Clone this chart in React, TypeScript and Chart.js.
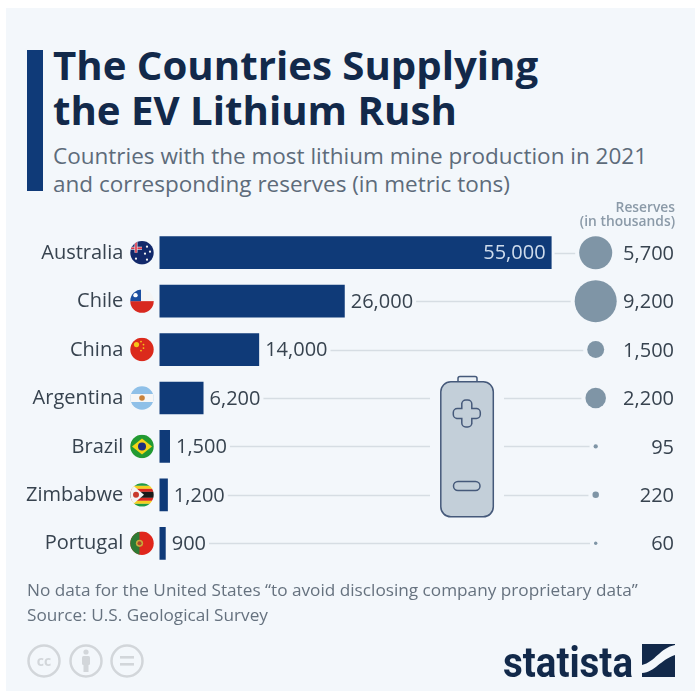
import React, { useEffect, useRef } from "react";
import { Chart, registerables } from "chart.js";

Chart.register(...registerables);

const countries = ["Australia", "Chile", "China", "Argentina", "Brazil", "Zimbabwe", "Portugal"];
const production = [55000, 26000, 14000, 6200, 1500, 1200, 900];
const reserves = [5700, 9200, 1500, 2200, 95, 220, 60];
const titleLines = ["The Countries Supplying", "the EV Lithium Rush"];
const subtitleLines = ["Countries with the most lithium mine production in 2021", "and corresponding reserves (in metric tons)"];
const reservesHeader = ["Reserves", "(in thousands)"];
const footnotes = ["No data for the United States \u201cto avoid disclosing company proprietary data\u201d", "Source: U.S. Geological Survey"];

const FONT = '"Open Sans", sans-serif';
const NAVY = "#0f3a78";
const TEXT = "#37434f";
const VALUE_SIZE = 20;
const fmt = (v: number) => v.toLocaleString("en-US");

type Ctx = CanvasRenderingContext2D;
const rect = (c: Ctx, col: string, x: number, y: number, w: number, h: number) => {
  c.fillStyle = col;
  c.fillRect(x, y, w, h);
};
const disc = (c: Ctx, col: string, x: number, y: number, r: number) => {
  c.fillStyle = col;
  c.beginPath();
  c.arc(x, y, r, 0, Math.PI * 2);
  c.fill();
};
const poly = (c: Ctx, col: string, pts: number[][]) => {
  c.fillStyle = col;
  c.beginPath();
  pts.forEach((p, i) => (i ? c.lineTo(p[0], p[1]) : c.moveTo(p[0], p[1])));
  c.closePath();
  c.fill();
};

// Flags are painted in a -12..12 box centred on the row.
const flags: ((c: Ctx) => void)[] = [
  (c) => {
    rect(c, "#12296b", -12, -12, 24, 24);
    rect(c, "#e8dfe4", -12, -6, 12, 3);
    rect(c, "#d8364a", -12, -5.3, 12, 1.6);
    rect(c, "#e8dfe4", -7.5, -12, 3, 12);
    rect(c, "#d8364a", -6.8, -12, 1.6, 12);
    [[5, -6], [8, -1], [3, 1], [5, 7], [-6, 6]].forEach((p) => disc(c, "#f2f2f2", p[0], p[1], 1.1));
  },
  (c) => {
    rect(c, "#f4f4f4", -12, -12, 24, 12);
    rect(c, "#d8291f", -12, 0, 24, 12);
    rect(c, "#1c4fa0", -12, -12, 11, 12);
    disc(c, "#ffffff", -6.5, -6, 2.2);
  },
  (c) => {
    rect(c, "#db2a1c", -12, -12, 24, 24);
    disc(c, "#f5c518", -5.5, -5, 2.6);
    [[-1, -8], [1.5, -5], [1.5, -1.5], [-1, 1]].forEach((p) => disc(c, "#f5c518", p[0], p[1], 0.9));
  },
  (c) => {
    rect(c, "#8fc0e8", -12, -12, 24, 24);
    rect(c, "#f6f6f6", -12, -4, 24, 8);
    disc(c, "#c9823a", 0, 0, 2.8);
  },
  (c) => {
    rect(c, "#229a32", -12, -12, 24, 24);
    poly(c, "#f3d417", [[-10, 0], [0, -8], [10, 0], [0, 8]]);
    disc(c, "#1b2f80", 0, 0, 4);
  },
  (c) => {
    rect(c, "#f4f4f4", -12, -12, 24, 24);
    rect(c, "#1f9a45", -12, -12, 24, 3);
    rect(c, "#f4cf1f", -12, -9, 24, 3);
    rect(c, "#d9271f", -12, -6, 24, 3);
    rect(c, "#1a1a1a", -12, -3, 24, 6);
    rect(c, "#d9271f", -12, 3, 24, 3);
    rect(c, "#f4cf1f", -12, 6, 24, 3);
    rect(c, "#1f9a45", -12, 9, 24, 3);
    poly(c, "#f4f4f4", [[-12, -12], [2, 0], [-12, 12]]);
    disc(c, "#c83a2c", -6, 0, 3);
  },
  (c) => {
    rect(c, "#e0261c", -12, -12, 24, 24);
    rect(c, "#2e7a34", -12, -12, 9.5, 24);
    disc(c, "#c9a93a", -2.5, 0, 3.6);
    disc(c, "#b0432c", -2.5, 0, 2);
  },
];

const rr = (c: Ctx, x: number, y: number, w: number, h: number, r: number) => {
  c.beginPath();
  c.roundRect(x, y, w, h, r);
};

const batteryBox = { left: 430, right: 504, top: 376, bottom: 517 };

const paintBattery = (c: Ctx) => {
  c.save();
  c.strokeStyle = "#45597a";
  c.lineWidth = 1.5;
  c.fillStyle = "#eaf0f5";
  rr(c, 458, 376.5, 19, 8, 2);
  c.fill();
  c.stroke();
  c.fillStyle = "#c3cfd9";
  rr(c, 440.8, 381.8, 52.5, 135, 10);
  c.fill();
  c.stroke();
  // plus sign
  c.beginPath();
  const px = 466.8, py = 413.5, a = 13.5, b = 5;
  c.moveTo(px - b, py - a + 3);
  c.arcTo(px - b, py - a, px, py - a, 4);
  c.arcTo(px + b, py - a, px + b, py - a + 4, 4);
  c.lineTo(px + b, py - b);
  c.lineTo(px + a - 3, py - b);
  c.arcTo(px + a, py - b, px + a, py, 4);
  c.arcTo(px + a, py + b, px + a - 4, py + b, 4);
  c.lineTo(px + b, py + b);
  c.lineTo(px + b, py + a - 3);
  c.arcTo(px + b, py + a, px, py + a, 4);
  c.arcTo(px - b, py + a, px - b, py + a - 4, 4);
  c.lineTo(px - b, py + b);
  c.lineTo(px - a + 3, py + b);
  c.arcTo(px - a, py + b, px - a, py, 4);
  c.arcTo(px - a, py - b, px - a + 4, py - b, 4);
  c.lineTo(px - b, py - b);
  c.closePath();
  c.stroke();
  rr(c, 453.5, 481.5, 26.5, 9, 4.5);
  c.stroke();
  c.restore();
};

const infographic = {
  id: "infographic",
  beforeDatasetsDraw(chart: any) {
    const c: Ctx = chart.ctx;
    const x = chart.scales.x, y = chart.scales.y;
    const bubbles = chart.getDatasetMeta(1).data;
    c.save();
    c.font = `${VALUE_SIZE}px ${FONT}`;
    c.strokeStyle = "#d6dde3";
    c.lineWidth = 1.5;
    production.forEach((v, i) => {
      const yy = Math.round(y.getPixelForValue(i)) + 0.5;
      const inside = i === 0;
      const start = x.getPixelForValue(v) + (inside ? 3 : 6 + c.measureText(fmt(v)).width + 3);
      const end = bubbles[i].x - bubbles[i].options.radius - 4;
      const crosses = yy > batteryBox.top && yy < batteryBox.bottom;
      c.beginPath();
      if (crosses) {
        c.moveTo(start, yy);
        c.lineTo(batteryBox.left, yy);
        c.moveTo(batteryBox.right, yy);
        c.lineTo(end, yy);
      } else {
        c.moveTo(start, yy);
        c.lineTo(end, yy);
      }
      c.stroke();
    });
    c.restore();
  },
  afterDatasetsDraw(chart: any) {
    const c: Ctx = chart.ctx;
    const x = chart.scales.x, y = chart.scales.y;
    c.save();
    c.textBaseline = "middle";
    c.font = `${VALUE_SIZE}px ${FONT}`;
    production.forEach((v, i) => {
      const yy = y.getPixelForValue(i) + 1;
      if (i === 0) {
        c.fillStyle = "#cfdcec";
        c.textAlign = "right";
        c.fillText(fmt(v), x.getPixelForValue(v) - 6, yy);
      } else {
        c.fillStyle = TEXT;
        c.textAlign = "left";
        c.fillText(fmt(v), x.getPixelForValue(v) + 6, yy);
      }
    });
    c.fillStyle = TEXT;
    c.textAlign = "right";
    reserves.forEach((v, i) => c.fillText(fmt(v), 674, y.getPixelForValue(i) + 1.5));
    c.fillStyle = "#8b9aa8";
    c.font = `600 13.8px ${FONT}`;
    c.fillText(reservesHeader[0], 675, 208);
    c.fillText(reservesHeader[1], 675, 222);
    countries.forEach((_, i) => {
      c.save();
      c.translate(142, y.getPixelForValue(i));
      c.beginPath();
      c.arc(0, 0, 11.7, 0, Math.PI * 2);
      c.clip();
      flags[i](c);
      c.restore();
    });
    paintBattery(c);
    c.restore();
  },
};

const LEFT = 159.3;
const RIGHT = 676;
const PER_UNIT = (551.6 - LEFT) / 55000;
const BUBBLE_X = 595.7;
const RADIUS_K = 21 / Math.sqrt(9200);

const textBox = (left: number, top: number, style: React.CSSProperties): React.CSSProperties => ({
  position: "absolute",
  left,
  top,
  whiteSpace: "nowrap",
  fontFamily: FONT,
  ...style,
});

export default function App() {
  const ref = useRef<HTMLCanvasElement>(null);
  useEffect(() => {
    const chart = new Chart(ref.current as HTMLCanvasElement, {
      type: "bar",
      data: {
        labels: countries,
        datasets: [
          {
            type: "bar",
            data: production,
            backgroundColor: NAVY,
            barPercentage: 0.675,
            categoryPercentage: 1,
            xAxisID: "x",
            yAxisID: "y",
          },
          {
            type: "bubble",
            data: reserves.map((v, i) => ({ x: 0, y: countries[i], r: RADIUS_K * Math.sqrt(v) })),
            backgroundColor: "#7f95a6",
            borderWidth: 0,
            xAxisID: "xR",
            yAxisID: "y",
            clip: false,
          },
        ],
      } as any,
      options: {
        indexAxis: "y",
        animation: false,
        responsive: false,
        layout: { padding: { left: 0, right: 697 - RIGHT, top: 228.5, bottom: 691 - 567.5 } },
        plugins: { legend: { display: false }, tooltip: { enabled: false } },
        scales: {
          x: {
            type: "linear",
            min: 0,
            max: (RIGHT - LEFT) / PER_UNIT,
            display: false,
          },
          xR: {
            type: "linear",
            axis: "x",
            min: LEFT - BUBBLE_X,
            max: RIGHT - BUBBLE_X,
            display: false,
          },
          y: {
            type: "category",
            offset: true,
            grid: { display: false, drawTicks: false },
            border: { display: false },
            afterFit: (s: any) => {
              s.width = LEFT;
            },
            ticks: { padding: 36, labelOffset: 0.5, color: TEXT, font: { family: FONT, size: 20 } },
          },
        },
      } as any,
      plugins: [infographic],
    });
    return () => chart.destroy();
  }, []);

  return (
    <div style={{ position: "absolute", left: 0, top: 0, width: 697, height: 691, overflow: "hidden", background: "#fff", filter: "blur(0.45px)" }}>
      <div style={{ position: "absolute", left: 6, top: 8, width: 689, height: 683, background: "#f3f7fb" }} />
      <div style={{ position: "absolute", left: 27, top: 50, width: 16, height: 141, background: NAVY }} />
      {titleLines.map((t, i) => (
        <div key={t} style={textBox(53, 37.5 + i * 45, { fontSize: 40.2, lineHeight: "53px", fontWeight: 700, color: "#12294a" })}>{t}</div>
      ))}
      {subtitleLines.map((t, i) => (
        <div key={t} style={textBox(53, 141 + i * 28, { fontSize: 22.5, lineHeight: "30px", color: "#5d6b7a" })}>{t}</div>
      ))}
      <canvas ref={ref} width={697} height={691} style={{ position: "absolute", left: 0, top: 0 }} />
      {footnotes.map((t, i) => (
        <div key={t} style={textBox(27, 578 + i * 25, { fontSize: 17.2, lineHeight: "24px", color: "#66727f" })}>{t}</div>
      ))}
      <svg width={697} height={691} style={{ position: "absolute", left: 0, top: 0 }}>
        <g fill="none" stroke="#d2d6da" strokeWidth={2.5}>
          <circle cx={44} cy={661} r={15.5} />
          <circle cx={86} cy={661} r={15.5} />
          <circle cx={127} cy={661} r={15.5} />
        </g>
        <text x={44} y={666} textAnchor="middle" fontFamily={FONT} fontWeight={700} fontSize={14} fill="#d2d6da">cc</text>
        <g fill="#d2d6da">
          <circle cx={86} cy={652} r={2.6} />
          <rect x={82} y={656} width={8} height={9} rx={1.5} />
          <rect x={83.5} y={664} width={5} height={8} />
          <rect x={120} y={656} width={14} height={2.6} />
          <rect x={120} y={663} width={14} height={2.6} />
        </g>
        <text x={503} y={677} fontFamily='"Liberation Sans Narrow", "Roboto", sans-serif' fontWeight={700} fontSize={43} fill="#12294a" textLength={130} lengthAdjust="spacingAndGlyphs">statista</text>
        <path d="M642 644 H675 V645 C660 648 655 662 642 665 Z" fill="#12294a" />
        <path d="M675 655 V677 H642 V673 C655 672 660 660 675 655 Z" fill="#12294a" />
      </svg>
    </div>
  );
}
